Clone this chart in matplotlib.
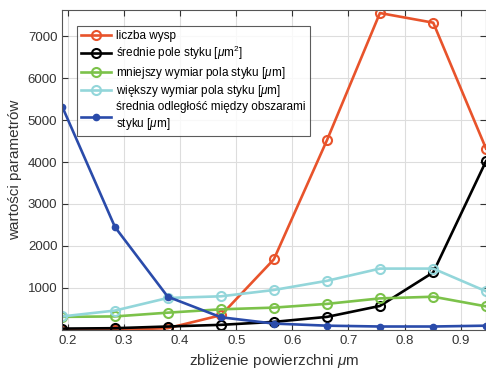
import matplotlib
matplotlib.use("Agg")
import matplotlib.pyplot as plt

plt.rcParams['font.family'] = ['Liberation Sans', 'DejaVu Sans']
plt.rcParams['mathtext.fontset'] = 'custom'
plt.rcParams['mathtext.it'] = 'Liberation Sans:italic'
plt.rcParams['mathtext.rm'] = 'Liberation Sans'

# zbliżenie powierzchni [um]
x = [0.19, 0.284, 0.378, 0.473, 0.567, 0.662, 0.756, 0.851, 0.945]

liczba_wysp = [0, 0, 40, 350, 1680, 4530, 7550, 7320, 4320]
srednie_pole = [30, 40, 80, 120, 190, 310, 570, 1370, 4020]
mniejszy_wymiar = [310, 320, 410, 490, 530, 620, 750, 790, 560]
wiekszy_wymiar = [320, 460, 760, 800, 950, 1170, 1460, 1460, 920]
srednia_odleglosc = [5320, 2450, 790, 300, 150, 100, 80, 80, 100]

labels = ["liczba wysp",
          "średnie pole styku [$\\mu$m$^2$]",
          "mniejszy wymiar pola styku [$\\mu$m]",
          "większy wymiar pola styku [$\\mu$m]",
          "średnia odległość między obszarami\nstyku [$\\mu$m]"]

fig = plt.figure(figsize=(4.86, 3.74), dpi=100)
ax = fig.add_axes([0.128, 0.118, 0.872, 0.855])

ax.plot(x, liczba_wysp, '-o', color='#E8532B', lw=1.9, ms=6.5, mfc='none', mew=1.5, label=labels[0])
ax.plot(x, srednie_pole, '-o', color='black', lw=1.9, ms=6.5, mfc='none', mew=1.5, label=labels[1])
ax.plot(x, mniejszy_wymiar, '-o', color='#7CC24A', lw=1.9, ms=6.5, mfc='none', mew=1.5, label=labels[2])
ax.plot(x, wiekszy_wymiar, '-o', color='#93D6DA', lw=1.9, ms=6.5, mfc='none', mew=1.5, label=labels[3])
ax.plot(x, srednia_odleglosc, '-o', color='#2A4BAA', lw=1.9, ms=4.5, label=labels[4])

ax.set_xlim(0.19, 0.945)
ax.set_ylim(0, 7620)
ax.set_xticks([0.2, 0.3, 0.4, 0.5, 0.6, 0.7, 0.8, 0.9])
ax.set_yticks([1000, 2000, 3000, 4000, 5000, 6000, 7000])
ax.tick_params(direction='in', top=True, right=True, labelsize=9.5, colors='#333333', length=4)
ax.grid(True, color='#dddddd', lw=0.8)
for s in ax.spines.values():
    s.set_color('#555555')

ax.set_xlabel("zbliżenie powierzchni $\\mu$m", fontsize=11, color='#333333')
ax.set_ylabel("wartości parametrów", fontsize=11, color='#333333')

leg = ax.legend(loc='upper left', bbox_to_anchor=(0.02, 0.97), fontsize=8.5, frameon=True,
                fancybox=False, edgecolor='#333333', handlelength=2.6, borderpad=0.35,
                labelspacing=0.2, handletextpad=0.4)
leg.get_frame().set_linewidth(0.8)

fig.savefig("out.png", dpi=100)
